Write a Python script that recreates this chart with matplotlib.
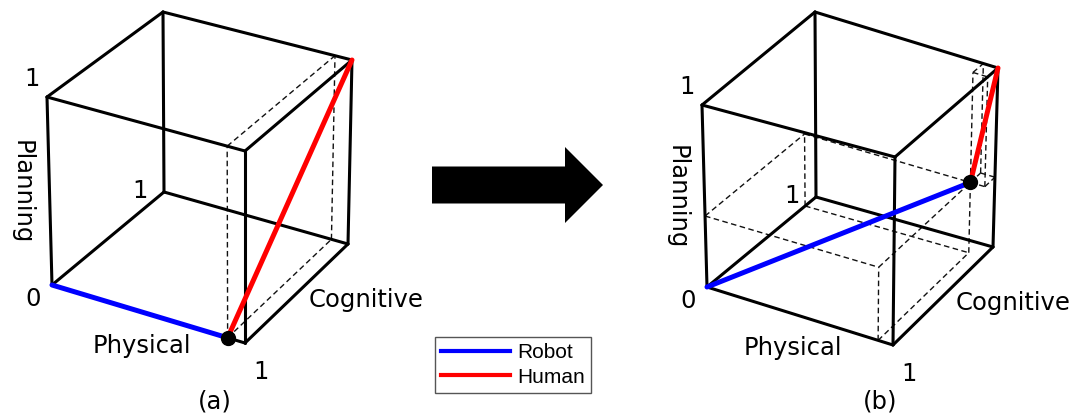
import numpy as np
import matplotlib.pyplot as plt
from matplotlib.lines import Line2D
from matplotlib.patches import FancyArrow

# share of each workload dimension (Physical, Cognitive, Planning) taken by the robot
robot_a = [0.91, 0.0, 0.0]
robot_b = [0.92, 0.90, 0.39]
human_end = [1.0, 1.0, 1.0]

axis_names = ["Physical", "Cognitive", "Planning"]
tick_zero = "0"
tick_one = "1"
legend_labels = ["Robot", "Human"]
panel_labels = ["(a)", "(b)"]

# camera for each cube: where the 8 unit-cube corners land on the page (pixels),
# keyed by (Physical, Cognitive, Planning); points inside are mapped trilinearly
views = [
    {(0, 0, 0): (52, 285), (1, 0, 0): (245, 343), (0, 1, 0): (164, 192), (0, 0, 1): (47, 97),
     (1, 1, 0): (348, 244), (1, 0, 1): (245, 151), (0, 1, 1): (163, 12), (1, 1, 1): (352, 60)},
    {(0, 0, 0): (707, 287), (1, 0, 0): (893, 345), (0, 1, 0): (816, 197), (0, 0, 1): (702, 105),
     (1, 1, 0): (993, 247), (1, 0, 1): (895, 157), (0, 1, 1): (815, 12), (1, 1, 1): (998, 68)},
]
title_pos = [(215, 402), (880, 402)]


def project(view, pt):
    x, y, z = pt
    px = py = 0.0
    for (i, j, k), (cx, cy) in view.items():
        w = (x if i else 1 - x) * (y if j else 1 - y) * (z if k else 1 - z)
        px += w * cx
        py += w * cy
    return px, py


def box_edges(lo, hi):
    edges = []
    for i in range(3):
        if lo[i] == hi[i]:
            continue
        j, k = [a for a in range(3) if a != i]
        for vj in (lo[j], hi[j]):
            for vk in (lo[k], hi[k]):
                a = [0, 0, 0]
                b = [0, 0, 0]
                a[i], b[i] = lo[i], hi[i]
                a[j] = b[j] = vj
                a[k] = b[k] = vk
                edges.append((a, b))
    return edges


def draw_seg(ax, view, a, b, **kw):
    pa = project(view, a)
    pb = project(view, b)
    ax.plot([pa[0], pb[0]], [pa[1], pb[1]], solid_capstyle='round', **kw)


def draw_panel(ax, view, robot, title, tpos):
    # dashed boxes for robot and human shares
    for a, b in box_edges([0, 0, 0], robot) + box_edges(robot, human_end):
        draw_seg(ax, view, a, b, color='#111111', lw=1.0, ls=(0, (4, 2.5)), zorder=1)
    # cube frame
    for a, b in box_edges([0, 0, 0], [1, 1, 1]):
        draw_seg(ax, view, a, b, color='black', lw=2.2, zorder=2)
    draw_seg(ax, view, [0, 0, 0], robot, color='#0000ff', lw=3.6, zorder=3)
    draw_seg(ax, view, robot, human_end, color='#ff0000', lw=3.6, zorder=3)
    dx, dy = project(view, robot)
    ax.plot(dx, dy, 'o', color='black', ms=10, zorder=4)

    fs = 17.5

    def lab(pt, off, s, **kw):
        x, y = project(view, pt)
        ax.text(x + off[0], y + off[1], s, fontsize=fs, ha='center', va='center', **kw)

    lab([0, 0, 0], (-19, 14), tick_zero)
    lab([0, 0, 1], (-15, -18), tick_one)
    lab([0, 1, 0], (-24, -1), tick_one)
    lab([1, 0, 0], (16, 29), tick_one)
    lab([0, 0, 0.5], (-28, 1), axis_names[2], rotation=-90)
    lab([0.5, 0, 0], (-7, 32), axis_names[0])
    lab([1, 0.5, 0], (70, 7), axis_names[1])
    ax.text(tpos[0], tpos[1], title, fontsize=fs, ha='center', va='center')


fig = plt.figure(figsize=(10.71, 4.18), dpi=100)
ax = fig.add_axes([0, 0, 1, 1])
ax.set_xlim(0, 1071)
ax.set_ylim(418, 0)
ax.axis('off')

draw_panel(ax, views[0], robot_a, panel_labels[0], title_pos[0])
draw_panel(ax, views[1], robot_b, panel_labels[1], title_pos[1])

# big arrow between the two cubes
ax.add_patch(FancyArrow(432, 185, 171, 0, width=37, head_width=76, head_length=38,
                        length_includes_head=True, color='black', lw=0))

handles = [Line2D([], [], color='#0000ff', lw=3), Line2D([], [], color='#ff0000', lw=3)]
leg = ax.legend(handles, legend_labels, loc='lower left', bbox_to_anchor=(0.406, 0.06),
                prop={'family': 'Liberation Sans', 'size': 15}, fancybox=False,
                edgecolor='#555555', framealpha=1, handlelength=3.3, handletextpad=0.35,
                labelspacing=0.25, borderpad=0.3, borderaxespad=0)
leg.get_frame().set_linewidth(1.0)

fig.savefig('out.png', dpi=100)
